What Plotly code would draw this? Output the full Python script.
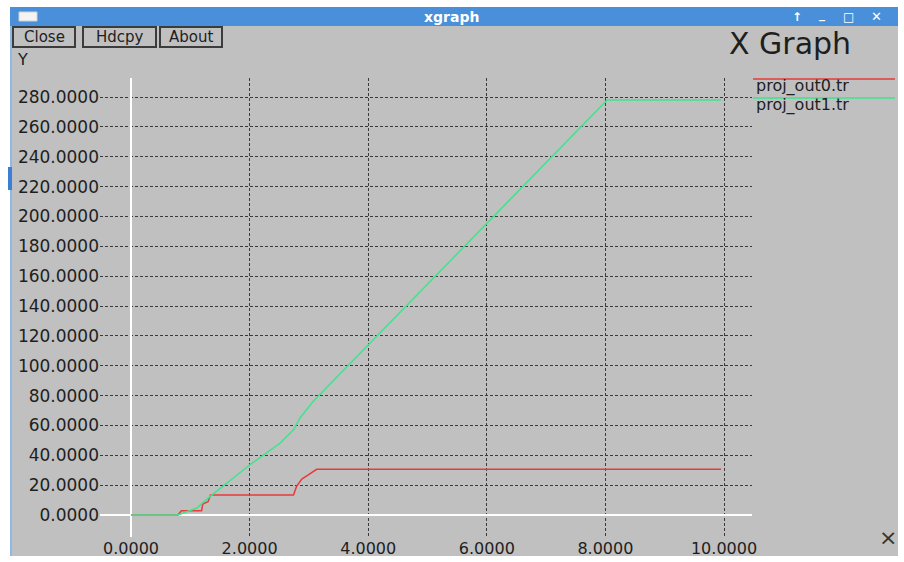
import plotly.graph_objects as go

# ---- data ----
red_name = "proj_out0.tr"
red_x = [0, 0.79, 0.85, 1.19, 1.21, 1.30, 1.34, 2.74, 2.79, 2.88, 2.99, 3.13, 9.95]
red_y = [0, 0, 2.9, 2.9, 7.4, 8.9, 13.4, 13.4, 19, 24, 26.8, 30.6, 30.6]

green_name = "proj_out1.tr"
green_x = [0, 0.79, 1.11, 1.33, 2.0, 2.51, 2.74, 2.85, 3.07, 8.03, 9.95]
green_y = [0, 0, 4.7, 12.3, 33.5, 48, 57, 65, 76, 278, 278]

x_ticks = [0, 2, 4, 6, 8, 10]
y_ticks = list(range(0, 281, 20))

# ---- style ----
W, H = 904, 562
GRAY = "#c0c0c0"
BLUE = "#4a8fd9"
RED = "#e83a3a"
GREEN = "#3fe48c"
GRID = "#3a3a3a"
TXT = "#1e1e1e"
FONT = "DejaVu Sans"


def px(x):
    return x / W


def py(y):
    return 1 - y / H


fig = go.Figure()
fig.add_trace(go.Scatter(x=red_x, y=red_y, mode="lines", name=red_name,
                         line=dict(color=RED, width=1.5), showlegend=False))
fig.add_trace(go.Scatter(x=green_x, y=green_y, mode="lines", name=green_name,
                         line=dict(color=GREEN, width=1.5), showlegend=False))

shapes = []


def rect(x0, y0, x1, y1, fill, line=None, lw=0, layer="below"):
    shapes.append(dict(type="rect", xref="paper", yref="paper",
                       x0=px(x0), x1=px(x1), y0=py(y1), y1=py(y0),
                       fillcolor=fill, layer=layer,
                       line=dict(color=line or fill, width=lw)))


def hline(x0, x1, y, color, w=1.5, layer="above"):
    shapes.append(dict(type="line", xref="paper", yref="paper",
                       x0=px(x0), x1=px(x1), y0=py(y), y1=py(y),
                       line=dict(color=color, width=w), layer=layer))


# window body and title bar
rect(12, 26, 898, 556, GRAY)
rect(10, 7, 898, 26, BLUE)
rect(10, 26, 12, 556, "#8fb8e8")
rect(8, 167, 12, 190, "#3a7fd5")
rect(19, 12, 37, 21, "#f4f4f4", line="#d0d0d0", lw=1)
# buttons
buttons = [("Close", 13, 75), ("Hdcpy", 83, 156), ("About", 160, 222)]
for label, bx0, bx1 in buttons:
    rect(bx0, 27, bx1, 47, GRAY, line="#3c3c3c", lw=2, layer="above")
# legend lines
hline(753, 895, 79, RED)
hline(753, 895, 98, GREEN)

annotations = []


def text(t, x, y, size, color=TXT, xanchor="center", bold=False, family=FONT):
    annotations.append(dict(text=("<b>%s</b>" % t) if bold else t, xref="paper", yref="paper",
                            x=px(x), y=py(y), xanchor=xanchor, yanchor="middle",
                            showarrow=False, font=dict(family=family, size=size, color=color)))


text("xgraph", 451, 17, 14, color="white", bold=True)
text("↑", 797, 17, 12, color="white", bold=True)
text("_", 822, 14, 12, color="white", bold=True)
text("□", 848, 17, 12, color="white", bold=True)
text("✕", 876, 17, 13, color="white", bold=True)
for label, bx0, bx1 in buttons:
    text(label, (bx0 + bx1) / 2, 37, 15)
text("X Graph", 790, 44, 30)
text("Y", 15, 60, 16, xanchor="left")
text("×", 888, 537, 22, color="#333333")
text(red_name, 754, 86, 16, xanchor="left")
text(green_name, 754, 105, 16, xanchor="left")

axis_common = dict(showgrid=True, gridcolor=GRID, griddash="3px,2px", gridwidth=1,
                   zeroline=True, zerolinecolor="white", zerolinewidth=2,
                   showline=False, ticks="", automargin=False,
                   tickformat=".4f")

fig.update_layout(
    width=W, height=H, template="none",
    margin=dict(l=0, r=0, t=0, b=0),
    paper_bgcolor="white", plot_bgcolor=GRAY,
    xaxis=dict(domain=[100 / W, 752 / W], range=[-0.5228, 10.472],
               tickvals=x_ticks, tickfont=dict(family=FONT, size=16, color=TXT),
               **axis_common),
    yaxis=dict(domain=[1 - 537 / H, 1 - 78 / H], range=[-14.74, 292.73],
               tickvals=y_ticks, tickfont=dict(family=FONT, size=17, color=TXT),
               **axis_common),
    shapes=shapes, annotations=annotations, showlegend=False,
)

fig.write_html(
    "out.html",
    config={"displayModeBar": False},
    post_script="document.body.style.margin='0';document.body.style.overflow='hidden';",
)
